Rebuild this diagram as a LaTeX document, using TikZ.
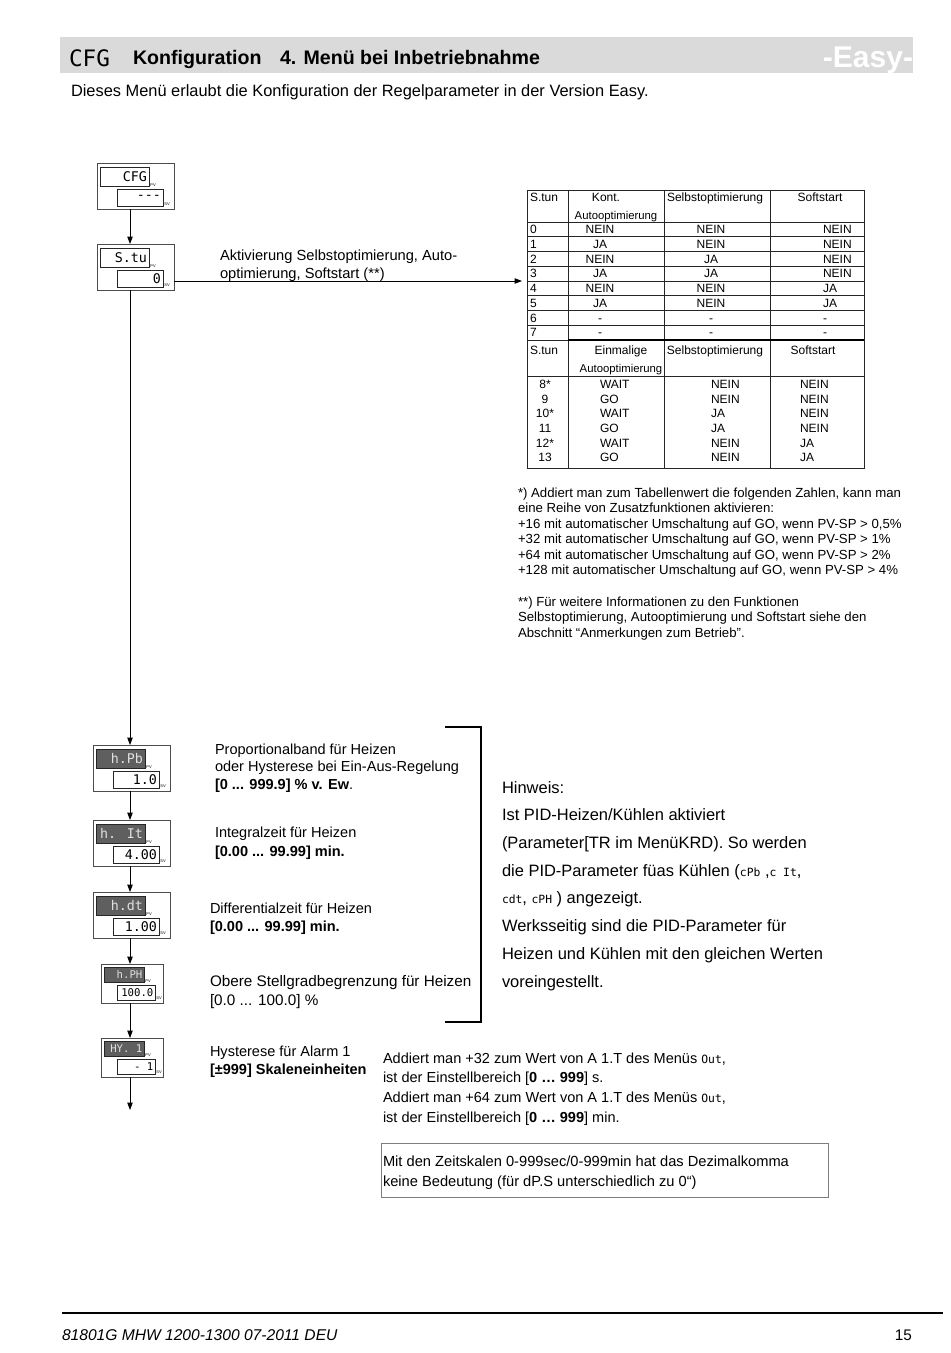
\documentclass[tikz,border=0pt]{standalone}
\usepackage{fontspec}
\setmainfont{Liberation Sans}
\newfontfamily\segfont{DejaVu Sans Mono}
\usetikzlibrary{arrows.meta}
\definecolor{bandgray}{RGB}{218,218,218}
\definecolor{darkseg}{RGB}{95,95,95}
\definecolor{boxgray}{RGB}{125,125,125}
\newcommand\fsz[2]{\fontsize{#1}{#2}\selectfont}
\newcommand\seg[1]{{\segfont\fsz{8.5pt}{10pt}#1}}
\tikzset{
 every node/.style={inner sep=0pt, outer sep=0pt},
 dispout/.style={draw=black!70, line width=0.6pt, fill=white, anchor=north west},
 segbox/.style={draw=black!85, line width=0.6pt, fill=white, anchor=north west},
 segdark/.style={draw=black!85, line width=0.6pt, fill=darkseg, anchor=north west},
 segtxt/.style={font=\segfont\fsz{10pt}{10pt}, anchor=east},
 segtxtw/.style={segtxt, text=white!88!black},
 segtxtS/.style={font=\segfont\fsz{8pt}{8pt}, anchor=east},
 segtxtSw/.style={segtxtS, text=white!88!black},
 pvsv/.style={font=\fsz{3pt}{3pt}, anchor=south west},
 arr/.style={line width=0.6pt, -{Triangle[length=5.5pt, width=4pt]}},
 txt/.style={anchor=base west, align=left},
 tl/.style={line width=0.5pt, draw=black!85},
 tabt/.style={font=\fsz{9pt}{10pt}},
 tabs/.style={font=\fsz{8.5pt}{10pt}},
}
% large display: name, x, y, top text, bottom text, top box style, top text style
\newcommand\dispL[7]{%
 \node[dispout, minimum width=57.75pt, minimum height=34.5pt] (#1) at (#2,#3) {};
 \node[#6, minimum width=36.75pt, minimum height=14.25pt] (#1t) at (#2+3,#3+4) {};
 \node[#7] (#1tt) at ([xshift=-1.5pt]#1t.east) {#4};
 \node[pvsv] (#1pv) at ([xshift=1pt]#1t.south east) {PV};
 \node[segbox, minimum width=34.5pt, minimum height=12.75pt] (#1b) at (#2+20,#3+26) {};
 \node[segtxt] (#1bt) at ([xshift=-1.5pt]#1b.east) {#5};
 \node[pvsv] (#1sv) at ([xshift=1pt]#1b.south east) {SV};
}
% small display
\newcommand\dispS[7]{%
 \node[dispout, minimum width=46.5pt, minimum height=29.25pt] (#1) at (#2,#3) {};
 \node[#6, minimum width=30pt, minimum height=11.25pt] (#1t) at (#2+3,#3+3) {};
 \node[#7] (#1tt) at ([xshift=-1.2pt]#1t.east) {#4};
 \node[pvsv] (#1pv) at ([xshift=1pt]#1t.south east) {PV};
 \node[segbox, minimum width=28.5pt, minimum height=11.25pt] (#1b) at (#2+16,#3+21) {};
 \node[segtxtS] (#1bt) at ([xshift=-1.2pt]#1b.east) {#5};
 \node[pvsv] (#1sv) at ([xshift=1pt]#1b.south east) {SV};
}
\begin{document}
\begin{tikzpicture}[x=0.75pt, y=-0.75pt]
\fill[white] (0,0) rectangle (950,1353);
\useasboundingbox (0,0) rectangle (950,1353);

% header band
\node[fill=bandgray, anchor=north west, minimum width=639.75pt, minimum height=27pt] (band) at (60,37) {};
\node[anchor=base west, font=\segfont\fsz{17pt}{17pt}] (hcfg) at (69,66) {CFG};
\node[anchor=base west, font=\bfseries\fsz{14.7pt}{16pt}] (htitle) at (133,64) {Konfiguration};
\node[anchor=base west, font=\bfseries\fsz{14.7pt}{16pt}] (hmenu) at (280,64) {4. Menü bei Inbetriebnahme};
\node[anchor=base east, font=\bfseries\fsz{22.5pt}{24pt}, text=white] (heasy) at (913,67) {-Easy-};
\node[txt, font=\fsz{12.3pt}{14pt}] (intro) at (71,96) {Dieses Menü erlaubt die Konfiguration der Regelparameter in der Version Easy.};

% displays
\dispL{cfg}{97}{163}{CFG}{---}{segbox}{segtxt}
\dispL{stu}{97}{244}{S.tu}{0}{segbox}{segtxt}
\dispL{hpb}{93}{745}{h.Pb}{1.0}{segdark}{segtxtw}
\dispL{hit}{93}{820}{h. It}{4.00}{segdark}{segtxtw}
\dispL{hdt}{93}{892}{h.dt}{1.00}{segdark}{segtxtw}
\dispS{hph}{101}{964}{h.PH}{100.0}{segdark}{segtxtSw}
\dispS{hy}{101}{1038}{HY. 1}{- 1}{segdark}{segtxtSw}

\coordinate (ax) at (130,0);
\coordinate (endarrow) at (130,1110);
\draw[arr] (cfg.south -| ax) -- (stu.north -| ax);
\draw[arr] (stu.south -| ax) -- (hpb.north -| ax);
\draw[arr] (hpb.south -| ax) -- (hit.north -| ax);
\draw[arr] (hit.south -| ax) -- (hdt.north -| ax);
\draw[arr] (hdt.south -| ax) -- (hph.north -| ax);
\draw[arr] (hph.south -| ax) -- (hy.north -| ax);
\draw[arr] (hy.south -| ax) -- (endarrow);

% table
\node[draw=black!85, line width=0.6pt, anchor=north west, minimum width=252.75pt, minimum height=208.5pt] (tab) at (527,190) {};
\coordinate (stuout) at ([yshift=6.75pt]stu.south east);
\draw[arr, shorten >=3.75pt] (stuout) -- (stuout -| tab.west);
\node[txt, font=\fsz{11pt}{13.5pt}] (stutxt) at (220,278) {Aktivierung Selbstoptimierung, Auto-\\optimierung, Softstart (**)};

\foreach \x in {568,664,770} \draw[tl] (\x,190) -- (\x,468);
\draw[tl] (527,222) -- (864,222);
\foreach \i in {1,...,7} \draw[tl] (527,222+\i*14.72) -- (864,222+\i*14.72);
\draw[tl] (527,340) -- (568,340);
\draw[line width=1.2pt] (568,340) -- (864,340);
\draw[tl] (527,376.5) -- (864,376.5);

\node[tabt, anchor=base west] (h1a) at (530,201) {S.tun};
\node[tabt, anchor=base] (h1b) at (606,201) {Kont.};
\node[tabs, anchor=base] (h1c) at (616,219) {Autooptimierung};
\node[tabt, anchor=base west] (h1d) at (667,201) {Selbstoptimierung};
\node[tabt, anchor=base] (h1e) at (820,201) {Softstart};
\foreach \a/\b/\c/\d [count=\i from 0] in {0/NEIN/NEIN/NEIN, 1/JA/NEIN/NEIN, 2/NEIN/JA/NEIN, 3/JA/JA/NEIN, 4/NEIN/NEIN/JA, 5/JA/NEIN/JA, 6/-/-/-, 7/-/-/-} {
 \pgfmathsetmacro\yy{229.5+\i*14.72+4.3}
 \node[tabt, anchor=base west] (ra\i) at (530,\yy) {\a};
 \node[tabt, anchor=base] (rb\i) at (600,\yy) {\b};
 \node[tabt, anchor=base] (rc\i) at (711,\yy) {\c};
 \node[tabt, anchor=base west] (rd\i) at (823,\yy) {\d};
}
\node[tabt, anchor=base west] (h2a) at (530,354) {S.tun};
\node[tabt, anchor=base] (h2b) at (621,354) {Einmalige};
\node[tabs, anchor=base] (h2c) at (621,372) {Autooptimierung};
\node[tabt, anchor=base] (h2d) at (715,354) {Selbstoptimierung};
\node[tabt, anchor=base] (h2e) at (813,354) {Softstart};
\foreach \a/\b/\c/\d [count=\i from 0] in {8*/WAIT/NEIN/NEIN, 9/GO/NEIN/NEIN, 10*/WAIT/JA/NEIN, 11/GO/JA/NEIN, 12*/WAIT/NEIN/JA, 13/GO/NEIN/JA} {
 \pgfmathsetmacro\yy{384+\i*14.7+4.3}
 \node[tabt, anchor=base] (sa\i) at (545,\yy) {\a};
 \node[tabt, anchor=base west] (sb\i) at (600,\yy) {\b};
 \node[tabt, anchor=base west] (sc\i) at (711,\yy) {\c};
 \node[tabt, anchor=base west] (sd\i) at (800,\yy) {\d};
}

% footnotes (base = last line)
\node[txt, font=\fsz{9.9pt}{11.625pt}] (fn1) at (518,574.5) {*) Addiert man zum Tabellenwert die folgenden Zahlen, kann man\\eine Reihe von Zusatzfunktionen aktivieren:\\+16 mit automatischer Umschaltung auf GO, wenn PV-SP > 0,5\%\\+32 mit automatischer Umschaltung auf GO, wenn PV-SP > 1\%\\+64 mit automatischer Umschaltung auf GO, wenn PV-SP > 2\%\\+128 mit automatischer Umschaltung auf GO, wenn PV-SP > 4\%};
\node[txt, font=\fsz{9.9pt}{11.625pt}] (fn2) at (518,637) {**) Für weitere Informationen zu den Funktionen\\Selbstoptimierung, Autooptimierung und Softstart siehe den\\Abschnitt “Anmerkungen zum Betrieb”.};

% parameter texts
\node[txt, font=\fsz{10.9pt}{13.125pt}] (tpb) at (215,789) {Proportionalband für Heizen\\oder Hysterese bei Ein-Aus-Regelung\\\textbf{[0 ... 999.9] \% v. Ew}.};
\node[txt, font=\fsz{10.9pt}{14.25pt}] (tit) at (215,856) {Integralzeit für Heizen\\\textbf{[0.00 ... 99.99] min.}};
\node[txt, font=\fsz{10.9pt}{13.5pt}] (tdt) at (210,931) {Differentialzeit für Heizen\\\textbf{[0.00 ... 99.99] min.}};
\node[txt, font=\fsz{11.45pt}{14.25pt}] (tph) at (210,1005) {Obere Stellgradbegrenzung für Heizen\\{[0.0 ... 100.0] \%}};
\node[txt, font=\fsz{10.9pt}{13.5pt}] (thy) at (210,1074) {Hysterese für Alarm 1\\\textbf{[±999] Skaleneinheiten}};

% bracket
\draw[line width=0.9pt] (445,727) -- (481,727) -- (481,1022) -- (445,1022);

% Hinweis
\node[txt, font=\fsz{12.35pt}{20.775pt}] (hinweis) at (502,987) {Hinweis:\\Ist PID-Heizen/Kühlen aktiviert\\(Parameter[TR im MenüKRD). So werden\\die PID-Parameter füas Kühlen (\seg{cPb} ,\seg{c It},\\\seg{cdt}, \seg{cPH} ) angezeigt.\\Werksseitig sind die PID-Parameter für\\Heizen und Kühlen mit den gleichen Werten\\voreingestellt.};

% bottom notes
\node[txt, font=\fsz{10.9pt}{14.7pt}] (tout) at (383,1122) {Addiert man +32 zum Wert von A 1.T des Menüs \seg{Out},\\ist der Einstellbereich [\textbf{0 … 999}] s.\\Addiert man +64 zum Wert von A 1.T des Menüs \seg{Out},\\ist der Einstellbereich [\textbf{0 … 999}] min.};
\node[draw=boxgray, line width=0.6pt, anchor=north west, minimum width=335.25pt, minimum height=40.5pt] (nbox) at (381,1143) {};
\node[txt, font=\fsz{11pt}{15pt}] (nboxt) at (383,1186) {Mit den Zeitskalen 0-999sec/0-999min hat das Dezimalkomma\\keine Bedeutung (für dP.S unterschiedlich zu 0“)};

% footer
\draw[line width=1.3pt] (62,1313) -- (943,1313);
\node[anchor=base west, font=\itshape\fsz{11.7pt}{12pt}] (ftxt) at (62,1340) {81801G MHW 1200-1300 07-2011 DEU};
\node[anchor=base east, font=\fsz{11.5pt}{12pt}] (fpage) at (912,1340) {15};
\end{tikzpicture}
\end{document}
